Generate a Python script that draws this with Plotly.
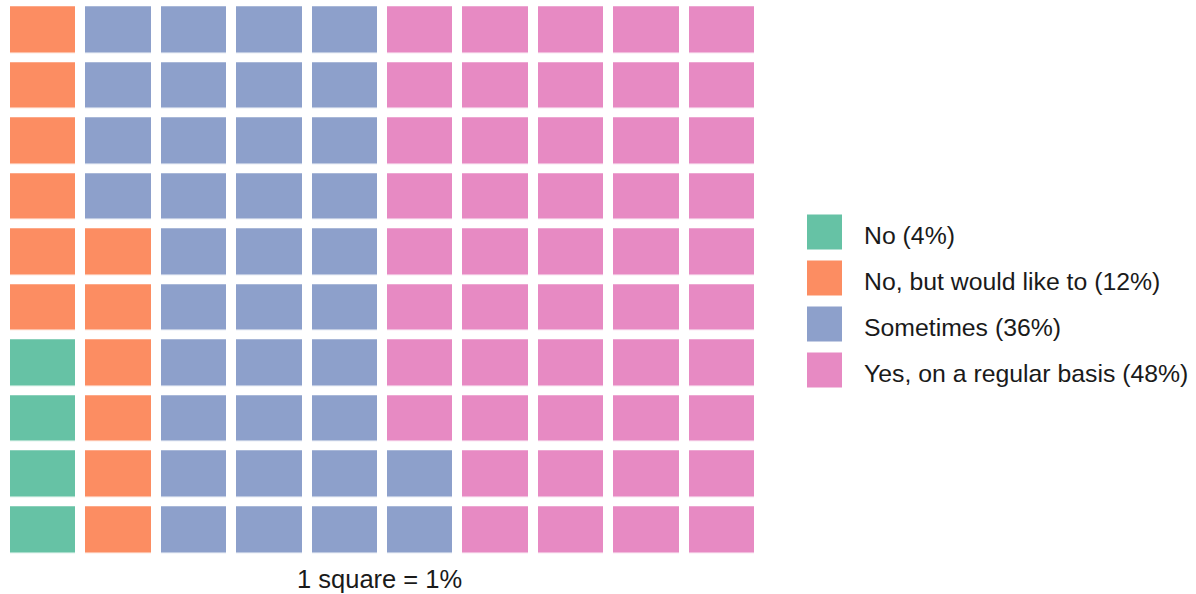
import plotly.graph_objects as go
import numpy as np

categories = ["No", "No, but would like to", "Sometimes", "Yes, on a regular basis"]
values = [4, 12, 36, 48]
colors = ["#66C2A5", "#FC8D62", "#8DA0CB", "#E78AC3"]
caption = "1 square = 1%"
n_rows, n_cols = 10, 10

# build waffle grid: filled column by column, bottom to top
cat_index = []
for i, v in enumerate(values):
    cat_index += [i] * v
z = np.full((n_rows, n_cols), np.nan)
for k, ci in enumerate(cat_index):
    col, row = k // n_rows, k % n_rows
    z[row][col] = ci

ncat = len(categories)
cs = []
for i, c in enumerate(colors):
    cs.append([i / ncat, c])
    cs.append([(i + 1) / ncat, c])

W, H = 1196, 594
fig = go.Figure()
fig.add_trace(go.Heatmap(
    z=z, x=list(range(n_cols)), y=list(range(n_rows)),
    colorscale=cs, zmin=-0.5, zmax=ncat - 0.5, showscale=False,
    xgap=10, ygap=9.6, hoverinfo="skip",
))

# manual legend
leg_x = 824.5
leg_y0 = 232
leg_step = 46
fig.add_trace(go.Scatter(
    x=[leg_x] * ncat, y=[leg_y0 + leg_step * i for i in range(ncat)],
    mode="markers", marker=dict(symbol="square", size=35, color=colors, line=dict(width=0)),
    xaxis="x2", yaxis="y2", hoverinfo="skip", showlegend=False,
))
annotations = []
for i, (cat, v) in enumerate(zip(categories, values)):
    annotations.append(dict(
        x=862, y=leg_y0 + leg_step * i + 3, xref="x2", yref="y2",
        text=f"{cat} ({v}%)", showarrow=False, xanchor="left", yanchor="middle",
        font=dict(family="Liberation Sans, Arial", size=24.8, color="#1a1a1a"),
    ))
annotations.append(dict(
    x=379 / W, y=1 - 579 / H, xref="paper", yref="paper", text=caption,
    showarrow=False, xanchor="center", yanchor="middle",
    font=dict(family="Liberation Sans, Arial", size=25.5, color="#1a1a1a"),
))

fig.update_layout(
    width=W, height=H, margin=dict(l=0, r=0, t=0, b=0),
    paper_bgcolor="white", plot_bgcolor="rgba(0,0,0,0)", showlegend=False,
    xaxis=dict(domain=[5 / W, 759 / W], range=[-0.5, n_cols - 0.5], visible=False, fixedrange=True),
    yaxis=dict(domain=[1 - 557.8 / H, 1 - 2.2 / H], range=[-0.5, n_rows - 0.5], visible=False, fixedrange=True),
    xaxis2=dict(domain=[0, 1], range=[0, W], visible=False, anchor="y2", fixedrange=True),
    yaxis2=dict(domain=[0, 1], range=[H, 0], visible=False, anchor="x2", fixedrange=True),
    annotations=annotations,
)
fig.write_html("out.html", config={"displayModeBar": False},
               post_script="document.body.style.margin='0';document.body.style.padding='0';")
